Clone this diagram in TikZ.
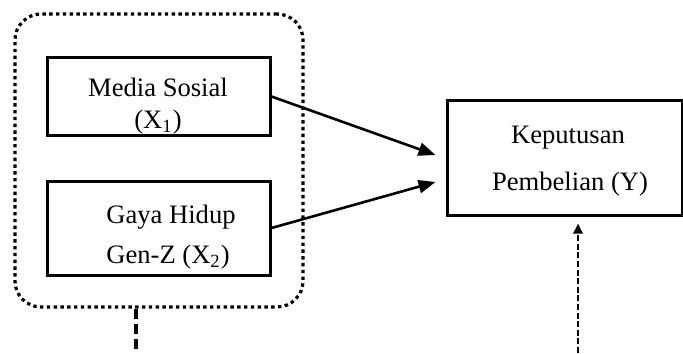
\documentclass[tikz,border=0pt]{standalone}
\usepackage{fontspec}
\setmainfont{Liberation Serif}
\usetikzlibrary{arrows.meta,calc}
\begin{document}
\begin{tikzpicture}[x=0.5pt,y=-0.5pt,
  box/.style={draw, line width=1.5pt, inner sep=0pt},
  group/.style={draw, line width=1.6pt, dash pattern=on 1.7pt off 1.7pt, rounded corners=13pt, inner sep=0pt},
  txt/.style={font=\fontsize{13.3}{16}\selectfont, inner sep=0pt, anchor=base},
  arr/.style={line width=1.3pt, -{Triangle[length=8.5pt,width=6.5pt]}},
  dashline/.style={line width=1.6pt, dash pattern=on 5pt off 2.5pt},
  dotarr/.style={line width=1.3pt, dash pattern=on 3pt off 1.3pt, -{Triangle[length=5pt,width=4.5pt]}}]
\useasboundingbox (0,0) rectangle (683,353);
\node[group, minimum width=144pt, minimum height=146.5pt] (grp) at (159,160.5) {};
\node[box, minimum width=111.5pt, minimum height=38.5pt] (x1) at (158.5,96.5) {};
\node[box, minimum width=111.5pt, minimum height=47pt] (x2) at (158.5,228) {};
\node[box, minimum width=117.5pt, minimum height=57.5pt] (y) at (564.5,157.5) {};
\node[txt] (t1a) at (158,97) {Media Sosial};
\node[txt] (t1b) at (158,128) {(X\textsubscript{1})};
\node[txt] (t2a) at (171,223) {Gaya Hidup};
\node[txt] (t2b) at (168,263) {Gen-Z (X\textsubscript{2})};
\node[txt] (t3a) at (568,143) {Keputusan};
\node[txt] (t3b) at (570,190) {Pembelian (Y)};
\draw[arr] (x1.east) -- ([xshift=-5pt,yshift=1.25pt]y.west);
\draw[arr] (x2.east) -- ([xshift=-5pt,yshift=-12.25pt]y.west);
\coordinate (lb) at (136,353);
\draw[dashline] (grp.south -| lb) -- (lb);
\coordinate (rb) at (578,353);
\draw[dotarr] (rb) -- ($(rb |- y.south)+(0,7)$);
\end{tikzpicture}
\end{document}
